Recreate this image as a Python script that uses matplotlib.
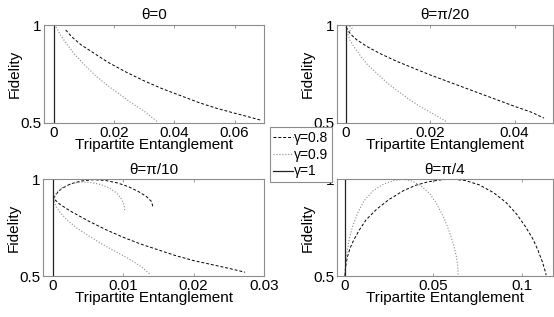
import matplotlib.pyplot as plt

plt.rcParams['font.family'] = ['Liberation Sans', 'DejaVu Sans']

titles = ['θ=0', 'θ=π/20', 'θ=π/10', 'θ=π/4']
legend_labels = ['γ=0.8', 'γ=0.9', 'γ=1']

# theta = 0
t0_g08_x = [0.004, 0.006, 0.009, 0.013, 0.018, 0.024, 0.03, 0.036, 0.042, 0.048, 0.054, 0.06, 0.065, 0.069]
t0_g08_y = [0.975, 0.94, 0.90, 0.86, 0.81, 0.76, 0.715, 0.675, 0.64, 0.605, 0.575, 0.55, 0.53, 0.513]
t0_g09_x = [0.0008, 0.002, 0.004, 0.007, 0.01, 0.014, 0.018, 0.022, 0.026, 0.03, 0.0345]
t0_g09_y = [0.99, 0.955, 0.91, 0.85, 0.80, 0.74, 0.69, 0.645, 0.60, 0.56, 0.505]

# theta = pi/20
t1_g08_x = [0.0, 0.001, 0.0025, 0.005, 0.008, 0.012, 0.016, 0.02, 0.025, 0.03, 0.035, 0.04, 0.044, 0.047]
t1_g08_y = [0.99, 0.955, 0.925, 0.89, 0.855, 0.815, 0.78, 0.745, 0.705, 0.665, 0.625, 0.585, 0.555, 0.525]
t1_g09_x = [0.0008, 0.0014, 0.0012, 0.0006, 0.0003, 0.001, 0.002, 0.0035, 0.005, 0.0075,
            0.01, 0.0125, 0.015, 0.0175, 0.02, 0.022, 0.024]
t1_g09_y = [0.995, 0.985, 0.975, 0.97, 0.96, 0.92, 0.885, 0.84, 0.80, 0.75,
            0.70, 0.66, 0.62, 0.585, 0.555, 0.53, 0.505]

# theta = pi/10
t2_g08_x = [0.0142, 0.014, 0.0133, 0.0122, 0.0108, 0.0092, 0.0075, 0.0058, 0.004, 0.0025, 0.0012,
            0.0004, 0.0001, 0.001, 0.0025, 0.005, 0.0075, 0.01, 0.0125, 0.015, 0.0175,
            0.02, 0.0225, 0.025, 0.0273]
t2_g08_y = [0.86, 0.885, 0.91, 0.935, 0.96, 0.98, 0.993, 0.997, 0.99, 0.975, 0.95,
            0.92, 0.90, 0.87, 0.835, 0.785, 0.74, 0.70, 0.665, 0.635, 0.605,
            0.58, 0.56, 0.54, 0.52]
t2_g09_x = [0.0102, 0.0101, 0.0097, 0.009, 0.008, 0.0068, 0.0055, 0.004, 0.0028, 0.0015, 0.0006,
            0.0001, 0.0004, 0.001, 0.002, 0.0035, 0.005, 0.007, 0.009, 0.011, 0.0125, 0.0138]
t2_g09_y = [0.84, 0.87, 0.90, 0.93, 0.955, 0.972, 0.982, 0.985, 0.978, 0.96, 0.935,
            0.90, 0.86, 0.83, 0.79, 0.745, 0.71, 0.665, 0.625, 0.585, 0.55, 0.51]

# theta = pi/4
t3_g08_x = [0.0, 0.0005, 0.0015, 0.003, 0.005, 0.008, 0.012, 0.018, 0.025, 0.033, 0.04, 0.047,
            0.054, 0.06, 0.068, 0.076, 0.084, 0.091, 0.097, 0.102, 0.106, 0.109, 0.1115,
            0.113, 0.1137]
t3_g08_y = [0.5, 0.55, 0.60, 0.645, 0.685, 0.735, 0.79, 0.845, 0.895, 0.94, 0.968, 0.986,
            0.996, 1.0, 0.993, 0.97, 0.93, 0.88, 0.82, 0.755, 0.695, 0.635, 0.575,
            0.53, 0.505]
t3_g09_x = [0.0, 0.0005, 0.0012, 0.0025, 0.0045, 0.0075, 0.011, 0.016, 0.022, 0.028, 0.033,
            0.038, 0.043, 0.048, 0.052, 0.056, 0.059, 0.0615, 0.063, 0.0638, 0.064]
t3_g09_y = [0.5, 0.56, 0.62, 0.69, 0.76, 0.83, 0.89, 0.94, 0.975, 0.993, 0.999,
            0.99, 0.965, 0.925, 0.87, 0.80, 0.73, 0.66, 0.60, 0.55, 0.505]

g1_x = [0, 0]
g1_y = [0.5, 1]

panels = [
    (t0_g08_x, t0_g08_y, t0_g09_x, t0_g09_y, (-0.0032, 0.0697), [0, 0.02, 0.04, 0.06], ['0', '0.02', '0.04', '0.06']),
    (t1_g08_x, t1_g08_y, t1_g09_x, t1_g09_y, (-0.0022, 0.0491), [0, 0.02, 0.04], ['0', '0.02', '0.04']),
    (t2_g08_x, t2_g08_y, t2_g09_x, t2_g09_y, (-0.0014, 0.03), [0, 0.01, 0.02, 0.03], ['0', '0.01', '0.02', '0.03']),
    (t3_g08_x, t3_g08_y, t3_g09_x, t3_g09_y, (-0.0045, 0.1175), [0, 0.05, 0.1], ['0', '0.05', '0.1']),
]

positions = [
    [0.0794, 0.612, 0.397, 0.309],
    [0.608, 0.612, 0.390, 0.309],
    [0.0776, 0.129, 0.399, 0.306],
    [0.608, 0.129, 0.390, 0.306],
]

fig = plt.figure(figsize=(5.54, 3.17), dpi=100)
frame_col = '#8c8c8c'

for i, (x8, y8, x9, y9, xl, xt, xtl) in enumerate(panels):
    ax = fig.add_axes(positions[i])
    l8, = ax.plot(x8, y8, '--', color='black', lw=0.7, dashes=(3, 2))
    l9, = ax.plot(x9, y9, ':', color='#8a8a8a', lw=0.8)
    l1, = ax.plot(g1_x, g1_y, '-', color='#222222', lw=0.9)
    ax.set_xlim(xl)
    ax.set_ylim(0.5, 1)
    ax.set_xticks(xt)
    ax.set_xticklabels(xtl)
    ax.set_yticks([0.5, 1])
    ax.set_yticklabels(['0.5', '1'])
    ax.tick_params(direction='in', length=2, width=0.6, color=frame_col,
                   labelsize=11, pad=2, top=True, right=True)
    for s in ax.spines.values():
        s.set_color(frame_col)
        s.set_linewidth(0.8)
    ax.set_title(titles[i], fontsize=11, pad=4)
    ax.set_xlabel('Tripartite Entanglement', fontsize=11, labelpad=-1)
    ax.set_ylabel('Fidelity', fontsize=11, labelpad=-1)
    if i == 0:
        handles = [l8, l9, l1]

leg = fig.legend(handles, legend_labels, loc='upper left', bbox_to_anchor=(0.487, 0.598),
                 fontsize=10, handlelength=1.4, handletextpad=0.1, borderpad=0.25,
                 labelspacing=0.2, fancybox=False, framealpha=1, borderaxespad=0)
leg.get_frame().set_edgecolor(frame_col)
leg.get_frame().set_linewidth(0.8)

fig.savefig('out.png', dpi=100)
